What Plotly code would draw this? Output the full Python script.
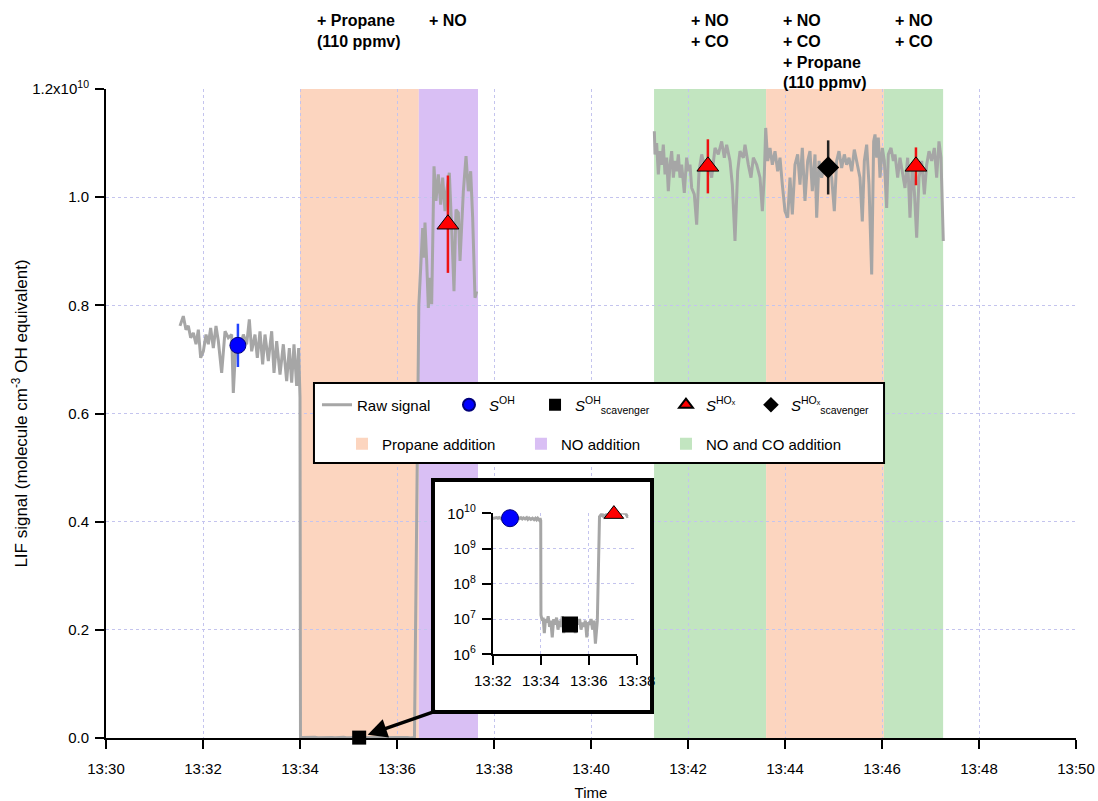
from datetime import datetime, timedelta
import plotly.graph_objects as go

# ---------------------------------------------------------------------------
# Data (times are minutes after 13:30, signals in units of 1e10 molecule cm-3)
# ---------------------------------------------------------------------------
START = datetime(2016, 6, 1, 13, 30)
SCALE = 1e10

# raw LIF signal: ambient air before the scavenger
t_ambient = [1.526, 1.594, 1.649, 1.697, 1.746, 1.801, 1.856, 1.904, 1.952, 2.007,
             2.062, 2.110, 2.158, 2.213, 2.268, 2.316, 2.385, 2.454, 2.522, 2.591,
             2.625, 2.680, 2.763, 2.832, 2.900, 2.955, 3.003, 3.072, 3.120, 3.175,
             3.230, 3.278, 3.347, 3.416, 3.464, 3.519, 3.588, 3.656, 3.725, 3.780,
             3.828, 3.876, 3.931, 3.972, 4.000]
v_ambient = [0.762, 0.780, 0.755, 0.762, 0.740, 0.749, 0.728, 0.755, 0.703, 0.715,
             0.746, 0.728, 0.758, 0.721, 0.762, 0.734, 0.675, 0.752, 0.740, 0.746,
             0.638, 0.734, 0.721, 0.746, 0.728, 0.774, 0.715, 0.746, 0.703, 0.752,
             0.691, 0.746, 0.697, 0.752, 0.675, 0.734, 0.672, 0.728, 0.660, 0.721,
             0.657, 0.728, 0.651, 0.721, 0.629]

# raw LIF signal: propane scavenger only
t_propane = [4.010, 4.06, 4.10, 4.15, 4.20, 4.26, 4.31, 4.37, 4.42, 4.48,
             4.54, 4.60, 4.66, 4.72, 4.78, 4.84, 4.90, 4.96, 5.02, 5.08,
             5.14, 5.20, 5.26, 5.32, 5.38, 5.44, 5.50, 5.56, 5.62, 5.68,
             5.74, 5.80, 5.86, 5.92, 5.98, 6.04, 6.10, 6.16, 6.22, 6.28, 6.33]
v_propane = [0.0013, 0.0009, 0.0011, 0.0004, 0.0010, 0.0008, 0.0012, 0.0006, 0.0009, 0.0003,
             0.0010, 0.0007, 0.0011, 0.0005, 0.0009, 0.0006, 0.0012, 0.0004, 0.0008, 0.0010,
             0.0006, 0.0009, 0.0005, 0.0008, 0.0011, 0.0004, 0.0009, 0.0007, 0.0010, 0.0005,
             0.0008, 0.0006, 0.0009, 0.0003, 0.0008, 0.0007, 0.0010, 0.0005, 0.0009, 0.0002,
             0.0008]

# raw LIF signal: NO addition
t_no = [6.36, 6.45, 6.495, 6.529, 6.557, 6.577, 6.612, 6.646, 6.680, 6.715,
        6.763, 6.804, 6.852, 6.900, 6.942, 6.990, 7.024, 7.079, 7.127, 7.175,
        7.216, 7.265, 7.299, 7.334, 7.368, 7.423, 7.471, 7.519, 7.560, 7.608, 7.643]
v_no = [0.0009, 0.80, 0.882, 0.943, 0.888, 0.953, 0.882, 0.795, 0.851, 0.802,
        1.057, 0.993, 1.042, 0.986, 1.036, 0.974, 1.011, 1.045, 0.943, 0.826,
        0.977, 0.971, 0.882, 0.962, 1.011, 1.076, 1.011, 1.048, 0.962, 0.814, 0.826]

# raw LIF signal: NO + CO (with and without propane)
t_noco = [11.306, 11.320, 11.354, 11.388, 11.423, 11.457, 11.491, 11.526, 11.560, 11.594,
          11.629, 11.663, 11.698, 11.732, 11.766, 11.801, 11.835, 11.869, 11.924, 11.972,
          12.007, 12.041, 12.076, 12.130, 12.179, 12.227, 12.282, 12.351, 12.419, 12.488,
          12.557, 12.625, 12.694, 12.749, 12.797, 12.866, 12.914, 12.969, 13.024, 13.072,
          13.141, 13.175, 13.244, 13.299, 13.347, 13.416, 13.485, 13.533, 13.574, 13.602,
          13.643, 13.691, 13.739, 13.794, 13.849, 13.897, 13.945, 14.000, 14.055, 14.103,
          14.151, 14.206, 14.261, 14.309, 14.357, 14.412, 14.467, 14.515, 14.563, 14.619,
          14.653, 14.701, 14.756, 14.825, 14.893, 14.962, 15.017, 15.065, 15.113, 15.168,
          15.223, 15.271, 15.320, 15.375, 15.429, 15.478, 15.546, 15.594, 15.636, 15.684,
          15.732, 15.787, 15.828, 15.856, 15.890, 15.924, 15.959, 16.007, 16.048, 16.096,
          16.130, 16.186, 16.234, 16.268, 16.323, 16.371, 16.419, 16.474, 16.529, 16.577,
          16.625, 16.667, 16.715, 16.763, 16.818, 16.873, 16.921, 16.969, 17.024, 17.079,
          17.127, 17.175, 17.216, 17.264]
v_noco = [1.122, 1.079, 1.100, 1.042, 1.085, 1.060, 1.097, 1.042, 1.073, 1.011,
          1.060, 1.085, 1.036, 1.067, 1.048, 1.079, 1.036, 1.060, 1.008, 1.073,
          1.048, 1.060, 1.017, 1.005, 0.949, 1.048, 1.079, 1.054, 1.067, 1.036,
          1.091, 1.079, 1.103, 1.073, 1.097, 1.067, 1.023, 0.919, 1.048, 1.085,
          1.073, 1.097, 1.060, 1.036, 1.073, 1.060, 1.036, 0.974, 1.042, 1.128,
          1.067, 1.091, 1.060, 1.085, 1.048, 1.073, 1.023, 0.974, 0.962, 1.036,
          0.968, 1.060, 1.079, 1.023, 1.091, 0.993, 1.067, 1.085, 1.011, 1.079,
          0.962, 1.067, 1.036, 1.067, 1.060, 1.036, 0.974, 1.067, 1.085, 1.054,
          1.079, 1.060, 1.073, 1.048, 1.088, 1.067, 1.036, 0.955, 1.067, 1.097,
          1.023, 0.857, 1.103, 1.116, 1.073, 1.110, 1.036, 1.091, 1.067, 0.980,
          1.079, 1.091, 1.067, 1.079, 1.036, 1.073, 1.048, 1.017, 1.073, 0.962,
          1.060, 1.011, 0.925, 1.036, 1.067, 1.005, 1.060, 1.085, 1.067, 1.091,
          1.036, 1.103, 1.073, 0.919]

# averaged signals with their uncertainties
s_oh_t, s_oh_v, s_oh_err = [2.72], [0.726], [0.04]
s_oh_scav_t, s_oh_scav_v = [5.22], [0.0007]
s_hox_t, s_hox_v, s_hox_err = [7.05, 12.41, 16.70], [0.950, 1.057, 1.057], [0.09, 0.05, 0.035]
s_hox_scav_t, s_hox_scav_v, s_hox_scav_err = [14.89], [1.055], [0.05]

# reagent addition periods
region_start = [4.00, 6.45, 11.30, 13.61, 16.04]
region_end = [6.45, 7.67, 13.61, 16.04, 17.26]
region_kind = ["Propane addition", "NO addition", "NO and CO addition",
               "Propane addition", "NO and CO addition"]
region_note = ["+ Propane<br>(110 ppmv)", "+ NO", "+ NO<br>+ CO",
               "+ NO<br>+ CO<br>+ Propane<br>(110 ppmv)", "+ NO<br>+ CO"]
kind_order = ["Propane addition", "NO addition", "NO and CO addition"]
kind_color = {"Propane addition": "#fcd5bf",
              "NO addition": "#d9bff4",
              "NO and CO addition": "#c2e5c0"}

x_ticks_main = [0, 20]
x_ticks_inset = [2, 8]
y_tickvals = [0.0, 0.2, 0.4, 0.6, 0.8, 1.0, 1.2]
y_ticktext = ["0.0", "0.2", "0.4", "0.6", "0.8", "1.0", "1.2x10<sup>10</sup>"]
log_tickvals = [1e6, 1e7, 1e8, 1e9, 1e10]
log_ticktext = ["10<sup>6</sup>", "10<sup>7</sup>", "10<sup>8</sup>",
                "10<sup>9</sup>", "10<sup>10</sup>"]


def clock(minutes):
    return [START + timedelta(minutes=m) for m in minutes]


def conc(values):
    return [v * SCALE for v in values]


FONT = "Liberation Sans, Arial, sans-serif"
GRAY = "#a6a6a6"
GRID = "#c4c4ee"

raw_x = clock(t_ambient + t_propane + t_no) + [None] + clock(t_noco)
raw_y = conc(v_ambient + v_propane + v_no) + [None] + conc(v_noco)

fig = go.Figure()

# ---- main panel ----------------------------------------------------------
fig.add_trace(go.Scatter(x=raw_x, y=raw_y, mode="lines", name="Raw signal",
                         line=dict(color=GRAY, width=3), connectgaps=False,
                         legend="legend"))
fig.add_trace(go.Scatter(
    x=clock(s_oh_t), y=conc(s_oh_v), mode="markers", name="<i>S</i><sup>OH</sup>",
    marker=dict(symbol="circle", size=16, color="#0000ff", line=dict(color="#00007a", width=1)),
    error_y=dict(type="data", array=conc(s_oh_err), color="#2244ff", thickness=2.5, width=0),
    cliponaxis=False, legend="legend2"))
fig.add_trace(go.Scatter(
    x=clock(s_oh_scav_t), y=conc(s_oh_scav_v), mode="markers",
    name="<i>S</i><sup>OH</sup><sub>scavenger</sub>",
    marker=dict(symbol="square", size=14, color="black"),
    cliponaxis=False, legend="legend3"))
fig.add_trace(go.Scatter(
    x=clock(s_hox_t), y=conc(s_hox_v), mode="markers", name="<i>S</i><sup>HOₓ</sup>",
    marker=dict(symbol="triangle-up", size=19, color="#ff0000", line=dict(color="black", width=1)),
    error_y=dict(type="data", array=conc(s_hox_err), color="#ee1111", thickness=2.5, width=0),
    cliponaxis=False, legend="legend4"))
fig.add_trace(go.Scatter(
    x=clock(s_hox_scav_t), y=conc(s_hox_scav_v), mode="markers",
    name="<i>S</i><sup>HOₓ</sup><sub>scavenger</sub>",
    marker=dict(symbol="diamond", size=17, color="black"),
    error_y=dict(type="data", array=conc(s_hox_scav_err), color="#222222", thickness=2.5, width=0),
    cliponaxis=False, legend="legend5"))

# legend entries for the shaded periods
for i, kind in enumerate(kind_order):
    fig.add_trace(go.Scatter(x=[None], y=[None], mode="markers", name=kind,
                             marker=dict(symbol="square", size=12, color=kind_color[kind]),
                             legend="legend%d" % (6 + i)))

# ---- inset (log scale) ---------------------------------------------------
# blank panel that provides the white backing of the inset frame
fig.add_trace(go.Scatter(x=[None], y=[None], xaxis="x2", yaxis="y2",
                         showlegend=False, hoverinfo="skip"))
fig.add_trace(go.Scatter(x=clock(t_ambient + t_propane + t_no),
                         y=conc(v_ambient + v_propane + v_no),
                         xaxis="x3", yaxis="y3", mode="lines",
                         line=dict(color=GRAY, width=3), showlegend=False))
fig.add_trace(go.Scatter(x=clock(s_oh_t), y=conc(s_oh_v), xaxis="x3", yaxis="y3",
                         mode="markers", showlegend=False, cliponaxis=False,
                         marker=dict(symbol="circle", size=17, color="#0000ff",
                                     line=dict(color="#00007a", width=1))))
fig.add_trace(go.Scatter(x=clock(s_oh_scav_t), y=conc(s_oh_scav_v), xaxis="x3", yaxis="y3",
                         mode="markers", showlegend=False, cliponaxis=False,
                         marker=dict(symbol="square", size=16, color="black")))
fig.add_trace(go.Scatter(x=clock(s_hox_t[:1]), y=conc(s_hox_v[:1]), xaxis="x3", yaxis="y3",
                         mode="markers", showlegend=False, cliponaxis=False,
                         marker=dict(symbol="triangle-up", size=17, color="#ff0000",
                                     line=dict(color="black", width=1))))

# ---- shaded periods and their labels -------------------------------------
shapes = []
annotations = []
for s, e, kind, note in zip(region_start, region_end, region_kind, region_note):
    x0, x1 = clock([s, e])
    shapes.append(dict(type="rect", xref="x", yref="paper", x0=x0, x1=x1, y0=0, y1=1,
                       fillcolor=kind_color[kind], line=dict(width=0), layer="below"))
    annotations.append(dict(text="<b>%s</b>" % note, xref="x", yref="paper",
                            x=clock([(s + e) / 2])[0], y=1.121, xanchor="center",
                            yanchor="top", align="left", showarrow=False,
                            font=dict(size=16, color="black", family=FONT)))

# legend frame
shapes.append(dict(type="rect", xref="paper", yref="paper", x0=0.2144, x1=0.8021,
                   y0=0.4237, y1=0.5470, fillcolor="white",
                   line=dict(color="black", width=2), layer="above"))
# inset frame
shapes.append(dict(type="rect", xref="paper", yref="paper", x0=0.3371, x1=0.5629,
                   y0=0.0401, y1=0.3975, fillcolor="rgba(0,0,0,0)",
                   line=dict(color="black", width=4), layer="above"))

# arrow from the inset to the scavenger point
annotations.append(dict(text="", x=clock(s_oh_scav_t)[0], y=conc(s_oh_scav_v)[0],
                        xref="x", yref="y", ax=78, ay=-27, showarrow=True,
                        arrowhead=2, arrowsize=1.1, arrowwidth=3.5, arrowcolor="black",
                        standoff=9))

axis_style = dict(showline=True, linecolor="black", linewidth=2, ticks="outside",
                  ticklen=9, tickwidth=2, tickcolor="black", showgrid=True,
                  gridcolor=GRID, gridwidth=1, griddash="dot", zeroline=False,
                  ticklabelstandoff=3, automargin=False,
                  tickfont=dict(size=15, color="black", family=FONT))

legend_base = dict(orientation="h", xanchor="left", yanchor="middle",
                   bgcolor="rgba(0,0,0,0)", borderwidth=0,
                   font=dict(size=15, color="black", family=FONT), itemsizing="constant")
legend_pos = {"legend": (0.2175, 0.5131), "legend2": (0.3536, 0.5131),
              "legend3": (0.4423, 0.5131), "legend4": (0.5773, 0.5131),
              "legend5": (0.6649, 0.5131), "legend6": (0.2433, 0.4530),
              "legend7": (0.4278, 0.4530), "legend8": (0.5773, 0.4530)}
legends = {}
for key, (lx, ly) in legend_pos.items():
    legends[key] = dict(legend_base, x=lx, y=ly)
legends["legend"]["itemsizing"] = "trace"

fig.update_layout(
    width=1098, height=801,
    margin=dict(l=106, r=22, t=89, b=63),
    paper_bgcolor="white", plot_bgcolor="white",
    font=dict(family=FONT, color="black"),
    showlegend=True,
    xaxis=dict(axis_style, type="date", range=clock(x_ticks_main), dtick=120000,
               tickformat="%H:%M", domain=[0, 1], ticklabelstandoff=7,
               title=dict(text="Time", font=dict(size=15, family=FONT), standoff=17)),
    yaxis=dict(axis_style, range=[0, 1.2 * SCALE], tickvals=conc(y_tickvals),
               ticktext=y_ticktext, domain=[0, 1],
               title=dict(text="LIF signal (molecule cm<sup>-3</sup> OH equivalent)",
                          font=dict(size=17, family=FONT), standoff=0)),
    xaxis2=dict(domain=[0.3371, 0.5629], anchor="y2", range=[0, 1], showgrid=False,
                showticklabels=False, ticks="", showline=False, zeroline=False,
                fixedrange=True, automargin=False),
    yaxis2=dict(domain=[0.0401, 0.3975], anchor="x2", range=[0, 1], showgrid=False,
                showticklabels=False, ticks="", showline=False, zeroline=False,
                fixedrange=True, automargin=False),
    xaxis3=dict(axis_style, domain=[0.3987, 0.5471], anchor="y3", type="date",
                range=clock(x_ticks_inset), dtick=120000, tickformat="%H:%M"),
    yaxis3=dict(axis_style, domain=[0.1290, 0.3462], anchor="x3", type="log",
                range=[6, 10], tickvals=log_tickvals, ticktext=log_ticktext),
    shapes=shapes,
    annotations=annotations,
    **legends,
)

fig.write_html("out.html", config={"displayModeBar": False})
